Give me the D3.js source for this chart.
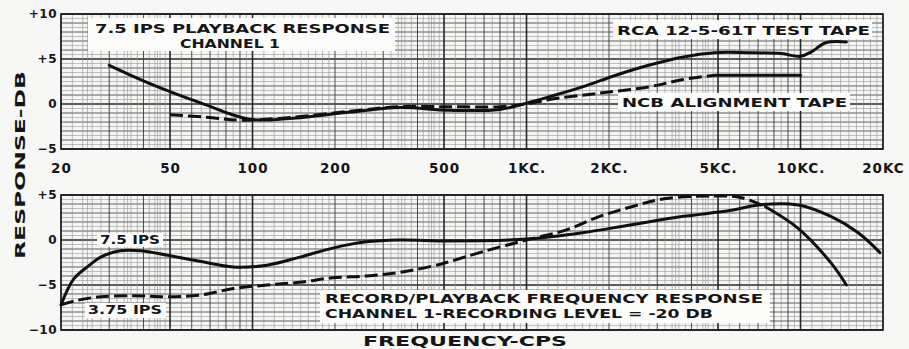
<!DOCTYPE html>
<html>
<head>
<meta charset="utf-8">
<script src="https://cdn.jsdelivr.net/npm/d3@7"></script>
<style>
body { margin: 0; background: #f7f7f5; }
svg { display: block; font-family: "DejaVu Sans", sans-serif; font-weight: bold; }
</style>
</head>
<body>
<svg id="chart" width="909" height="349"></svg>
<script>
// axis ticks
var freqTicks = [20, 50, 100, 200, 500, 1000, 2000, 5000, 10000, 20000];
var freqLabels = ["20", "50", "100", "200", "500", "1KC.", "2KC.", "5KC.", "10KC.", "20KC"];
var topTicks = [-5, 0, 5, 10];
var bottomTicks = [-10, -5, 0, 5];

// top panel - 7.5 ips playback response, channel 1
var rcaFreq = [30, 42, 65, 98, 137, 227, 344, 524, 800, 1000, 1210, 1600, 2120, 2790, 3690, 4870, 6440, 8500, 10000, 10960, 12340, 14700];
var rcaDb   = [4.3, 2.3, 0.1, -1.7, -1.6, -0.9, -0.4, -0.7, -0.6, 0.1, 0.8, 1.9, 3.2, 4.3, 5.2, 5.7, 5.7, 5.6, 5.3, 5.8, 6.8, 6.9];
var ncbFreq = [50, 70, 90, 137, 227, 344, 524, 800, 1000, 1210, 1840, 2790, 3690, 4870, 6440, 10000];
var ncbDb   = [-1.2, -1.5, -1.8, -1.5, -0.8, -0.3, -0.3, -0.3, 0, 0.5, 1.2, 1.9, 2.7, 3.2, 3.2, 3.2];

// bottom panel - record/playback response
var ips75Freq = [20, 22.3, 25.4, 27.9, 33, 39, 49, 65, 85, 113, 149, 196, 260, 344, 524, 1000, 1600, 2420, 3690, 5600, 7020, 9800, 12960, 16240, 19500];
var ips75Db   = [-7.2, -4.3, -2.8, -1.9, -1.2, -1.2, -1.7, -2.4, -3.0, -2.8, -1.9, -0.9, -0.2, 0, -0.1, 0.1, 0.8, 1.7, 2.6, 3.3, 3.9, 3.9, 2.6, 0.8, -1.4];
var ips375Freq = [20, 23, 28, 37, 49, 65, 85, 113, 149, 196, 260, 344, 453, 524, 692, 1000, 1390, 1840, 2420, 3220, 4870, 6080, 7450, 9800, 12960, 14700];
var ips375Db   = [-7.2, -6.7, -6.3, -6.2, -6.3, -6.1, -5.4, -5.0, -4.7, -4.2, -4.0, -3.6, -2.9, -2.4, -1.3, 0, 1.1, 2.6, 3.7, 4.6, 4.9, 4.7, 3.7, 1.3, -2.6, -5.0];

var svg = d3.select("#chart");
var left = 61, right = 883;

var x = d3.scaleLog().domain([20, 20000]).range([left, right]);
var yTop = d3.scaleLinear().domain([-5, 10]).range([149, 14]);
var yBot = d3.scaleLinear().domain([-10, 5]).range([330, 195]);

// graph paper grid lines
var vLines = [];
[10, 100, 1000, 10000].forEach(function(dec) {
  for (var k = 10; k < 100; k++) {
    var f = dec * k / 10;
    if (f < 20 || f > 20000) continue;
    var cls = null;
    if (k == 10 || k == 50) cls = "heavy";
    else if (k % 10 == 0) cls = "medium";
    else if (k < 20) cls = "minor";
    else if (k < 50 && k % 2 == 0) cls = "minor";
    else if (k % 5 == 0) cls = "minor";
    if (cls) vLines.push({f: f, cls: cls});
  }
});

var gridStyle = {
  heavy: {stroke: "#262626", width: 1.6},
  medium: {stroke: "#4c4c4c", width: 1.0},
  minor: {stroke: "#909090", width: 0.6}
};

function drawPanel(y) {
  var g = svg.append("g");
  var dom = y.domain();
  g.append("rect")
    .attr("x", left).attr("y", y(dom[1]))
    .attr("width", right - left).attr("height", y(dom[0]) - y(dom[1]))
    .attr("fill", "#f6f6f4");

  var hLines = d3.range(dom[0], dom[1] + 0.01, 0.5).map(function(v) {
    var cls = (v % 5 == 0) ? "heavy" : (v % 1 == 0 ? "medium" : "minor");
    return {v: v, cls: cls};
  });

  g.selectAll(".hl").data(hLines).enter().append("line")
    .attr("x1", left).attr("x2", right)
    .attr("y1", function(d) { return y(d.v); })
    .attr("y2", function(d) { return y(d.v); })
    .attr("stroke", function(d) { return gridStyle[d.cls].stroke; })
    .attr("stroke-width", function(d) { return gridStyle[d.cls].width * 0.9; });

  g.selectAll(".vl").data(vLines).enter().append("line")
    .attr("x1", function(d) { return x(d.f); })
    .attr("x2", function(d) { return x(d.f); })
    .attr("y1", y(dom[1])).attr("y2", y(dom[0]))
    .attr("stroke", function(d) { return gridStyle[d.cls].stroke; })
    .attr("stroke-width", function(d) { return gridStyle[d.cls].width; });

  g.append("rect")
    .attr("x", left).attr("y", y(dom[1]))
    .attr("width", right - left).attr("height", y(dom[0]) - y(dom[1]))
    .attr("fill", "none").attr("stroke", "#1a1a1a").attr("stroke-width", 1.6);

  // y axis labels
  var ax = d3.axisLeft(y).tickValues(dom[0] == -5 ? topTicks : bottomTicks)
    .tickSize(0).tickPadding(4)
    .tickFormat(function(d) { return d > 0 ? "+" + d : (d < 0 ? "\u2212" + (-d) : "0"); });
  var a = svg.append("g").attr("transform", "translate(" + left + ",0)").call(ax);
  a.select(".domain").remove();
  a.selectAll("text")
    .attr("font-family", "DejaVu Sans").attr("font-weight", "bold")
    .attr("font-size", 12).attr("fill", "#151515")
    .attr("letter-spacing", 0.5);
  return g;
}

var gTop = drawPanel(yTop);
var gBot = drawPanel(yBot);

// white label patches on the paper
function patch(x0, y0, x1, y1) {
  svg.append("rect").attr("x", x0).attr("y", y0)
    .attr("width", x1 - x0).attr("height", y1 - y0)
    .attr("fill", "#fcfcfb");
}
patch(88, 18, 395, 51);
patch(613, 20, 872, 39);
patch(618, 93, 850, 111);
patch(97, 233, 163, 247);
patch(85, 303, 166, 318);
patch(320, 290, 770, 323);

function drawSeries(y, freq, db, dashUntil) {
  var pts = freq.map(function(f, i) { return {f: f, db: db[i]}; });
  var line = d3.line()
    .x(function(d) { return x(d.f); })
    .y(function(d) { return y(d.db); })
    .curve(d3.curveCatmullRom.alpha(0.5));
  var dashed = pts.filter(function(d) { return d.f <= dashUntil; });
  var solid = pts.filter(function(d) { return d.f >= dashUntil; });
  if (dashed.length > 1) {
    svg.append("path").datum(dashed).attr("d", line)
      .attr("fill", "none").attr("stroke", "#101010")
      .attr("stroke-width", 3).attr("stroke-dasharray", "13,5");
  }
  if (solid.length > 1) {
    svg.append("path").datum(solid).attr("d", line)
      .attr("fill", "none").attr("stroke", "#101010")
      .attr("stroke-width", 3).attr("stroke-linecap", "round");
  }
}

drawSeries(yTop, rcaFreq, rcaDb, 0);
drawSeries(yTop, ncbFreq, ncbDb, 4870);
drawSeries(yBot, ips75Freq, ips75Db, 0);
drawSeries(yBot, ips375Freq, ips375Db, 7450);

// frequency labels between the panels
var xAxis = d3.axisBottom(x).tickValues(freqTicks).tickSize(0).tickPadding(0)
  .tickFormat(function(d, i) { return freqLabels[i]; });
var xa = svg.append("g").attr("transform", "translate(0,163)").call(xAxis);
xa.select(".domain").remove();
xa.selectAll("text")
  .attr("font-family", "DejaVu Sans").attr("font-weight", "bold")
  .attr("font-size", 13.5).attr("fill", "#151515")
  .attr("letter-spacing", 1);

function label(txt, x0, base, len, size) {
  svg.append("text").attr("x", x0).attr("y", base)
    .attr("font-size", size || 12.5).attr("fill", "#151515")
    .attr("textLength", len).attr("lengthAdjust", "spacingAndGlyphs")
    .text(txt);
}
label("7.5 IPS PLAYBACK RESPONSE", 95, 33, 295);
label("CHANNEL 1", 180, 48, 100);
label("RCA 12-5-61T TEST TAPE", 617, 35, 253);
label("NCB ALIGNMENT TAPE", 622, 107, 225);
label("7.5 IPS", 100, 244, 60);
label("3.75 IPS", 88, 314, 74);
label("RECORD/PLAYBACK FREQUENCY RESPONSE", 325, 303, 438);
label("CHANNEL 1-RECORDING LEVEL = -20 DB", 325, 318, 388);

// axis titles
svg.append("text")
  .attr("transform", "translate(25,165) rotate(-90)")
  .attr("text-anchor", "middle")
  .attr("font-size", 14).attr("fill", "#151515")
  .attr("textLength", 188).attr("lengthAdjust", "spacingAndGlyphs")
  .text("RESPONSE-DB");

svg.append("text")
  .attr("x", 465).attr("y", 346)
  .attr("text-anchor", "middle")
  .attr("font-size", 14).attr("fill", "#151515")
  .attr("textLength", 204).attr("lengthAdjust", "spacingAndGlyphs")
  .text("FREQUENCY-CPS");
</script>
</body>
</html>
